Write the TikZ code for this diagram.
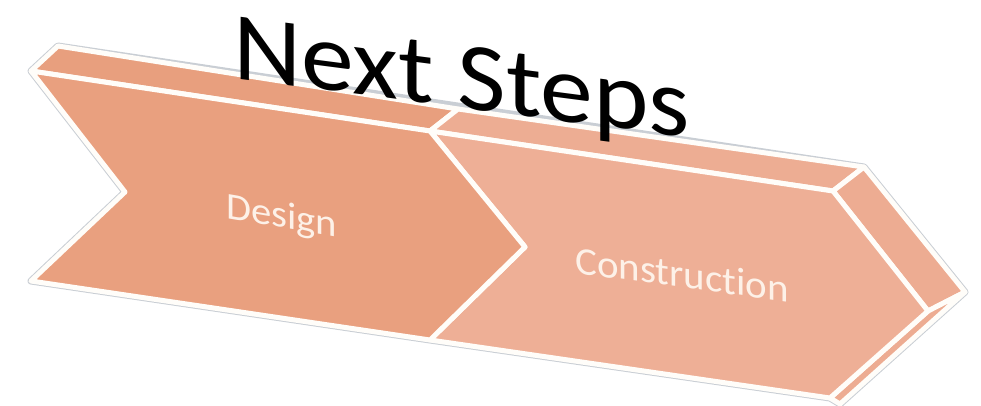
\documentclass[tikz,border=0pt]{standalone}
\usepackage{fontspec}
\setmainfont{Carlito}[Ligatures=NoCommon]
\definecolor{desfront}{HTML}{E9A07F}
\definecolor{destop}{HTML}{E89F7E}
\definecolor{confront}{HTML}{EEAF96}
\definecolor{contop}{HTML}{EDAD93}
\definecolor{conside}{HTML}{EDAC92}
\definecolor{rim}{HTML}{C9CED4}
\definecolor{edge}{HTML}{FFFDF9}
\definecolor{lbl}{HTML}{FDF1E8}
\tikzset{
  face/.style={draw=edge, line width=5pt, line join=round},
  silhouette/.style={draw=rim, line width=7pt, line join=round},
  title/.style={font=\fontsize{97}{100}\selectfont, text=black, inner sep=0pt, anchor=base west},
  stage/.style={text=lbl, inner sep=0pt, anchor=base west}
}
\begin{document}
\begin{tikzpicture}[x=1pt,y=-1pt]
\useasboundingbox (0,0) rectangle (981,405);
% vertices
\coordinate (B1) at (58,46);
\coordinate (JB) at (458,109);
\coordinate (B2) at (864,167);
\coordinate (B3) at (965,292);
\coordinate (B4) at (840,404);
\coordinate (F1) at (31,71);
\coordinate (J1) at (430,131);
\coordinate (C2) at (833,191);
\coordinate (C3) at (928,311);
\coordinate (C4) at (830,398);
\coordinate (T1) at (525,247);
\coordinate (J2) at (430,340);
\coordinate (F4) at (31,281);
\coordinate (N1) at (125,192);
% outer rim
\path[silhouette] (B1) -- (B2) -- (B3) -- (B4) -- (C4) -- (J2) -- (F4) -- (N1) -- (F1) -- cycle;
% faces
\path[face, fill=destop] (F1) -- (J1) -- (JB) -- (B1) -- cycle;
\path[face, fill=contop] (J1) -- (C2) -- (B2) -- (JB) -- cycle;
\path[face, fill=conside] (C2) -- (B2) -- (B3) -- (C3) -- cycle;
\path[face, fill=conside] (C3) -- (B3) -- (B4) -- (C4) -- cycle;
\path[face, fill=confront] (J1) -- (C2) -- (C3) -- (C4) -- (J2) -- (T1) -- cycle;
\path[face, fill=desfront] (F1) -- (J1) -- (T1) -- (J2) -- (F4) -- (N1) -- cycle;
% labels
\node[title, yslant=-0.13, xscale=1.09] (ttl) at (233,78) {Next Steps};
\node[stage, font=\fontsize{38}{40}\selectfont, yslant=-0.17, xscale=1.07] (des) at (226,218) {Design};
\node[stage, font=\fontsize{39}{40}\selectfont, yslant=-0.136, xscale=1.05] (con) at (575,273) {Construction};
\end{tikzpicture}
\end{document}
